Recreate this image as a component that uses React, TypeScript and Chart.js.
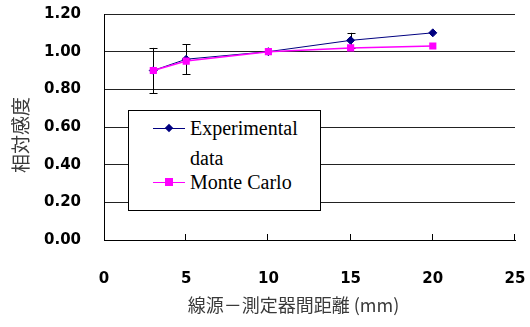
import React, { useEffect, useRef } from "react";
import { Chart, registerables } from "chart.js";

Chart.register(...registerables);

const distances = [3, 5, 10, 15, 20];
const experimental = [0.9, 0.96, 1.0, 1.06, 1.1];
const experimentalErr = [0.12, 0.08, 0, 0.04, 0];
const monteCarlo = [0.9, 0.95, 1.0, 1.02, 1.03];
const xTicks = [0, 5, 10, 15, 20, 25];
const yTitle = "相対感度";
const xTitle = "線源－測定器間距離 (mm)";
const seriesNames = ["Experimental data", "Monte Carlo"];

const errorBarPlugin = {
  id: "errorBars",
  beforeDatasetsDraw(chart: any) {
    const { ctx, scales } = chart;
    const xs = scales.x;
    const ys = scales.y;
    ctx.save();
    ctx.strokeStyle = "#000";
    ctx.lineWidth = 1;
    distances.forEach((d, i) => {
      const e = experimentalErr[i];
      if (!e) return;
      const x = Math.round(xs.getPixelForValue(d)) + 0.5;
      const y1 = ys.getPixelForValue(experimental[i] + e);
      const y2 = ys.getPixelForValue(experimental[i] - e);
      ctx.beginPath();
      ctx.moveTo(x, y1);
      ctx.lineTo(x, y2);
      ctx.moveTo(x - 4, Math.round(y1) + 0.5);
      ctx.lineTo(x + 4, Math.round(y1) + 0.5);
      ctx.moveTo(x - 4, Math.round(y2) + 0.5);
      ctx.lineTo(x + 4, Math.round(y2) + 0.5);
      ctx.stroke();
    });
    const bottom = chart.chartArea.bottom;
    ctx.beginPath();
    xTicks.forEach((t) => {
      if (t === 0) return;
      const x = Math.round(xs.getPixelForValue(t)) - 0.5;
      ctx.moveTo(x, bottom);
      ctx.lineTo(x, bottom - 6);
    });
    ctx.stroke();
    ctx.restore();
  },
};

const titlePlugin = {
  id: "axisTitleText",
  afterDraw(chart: any) {
    const { ctx, chartArea } = chart;
    ctx.save();
    ctx.fillStyle = "#3a3a3a";
    ctx.textAlign = "center";
    ctx.textBaseline = "middle";
    ctx.font = "18px 'Noto Sans CJK JP', 'DejaVu Sans', sans-serif";
    ctx.fillText(xTitle, (chartArea.left + chartArea.right) / 2 - 16, 305);
    ctx.translate(21, (chartArea.top + chartArea.bottom) / 2 + 8);
    ctx.rotate(-Math.PI / 2);
    ctx.font = "19px 'Noto Sans CJK JP', 'DejaVu Sans', sans-serif";
    ctx.fillText(yTitle, 0, 0);
    ctx.restore();
  },
};

export default function App() {
  const ref = useRef<HTMLCanvasElement>(null);
  useEffect(() => {
    const chart = new Chart(ref.current as HTMLCanvasElement, {
      type: "line",
      data: {
        datasets: [
          {
            label: seriesNames[0],
            data: distances.map((d, i) => ({ x: d, y: experimental[i] })),
            borderColor: "#000080",
            backgroundColor: "#000080",
            borderWidth: 1,
            pointStyle: "rectRot",
            pointRadius: 4,
            order: 2,
          },
          {
            label: seriesNames[1],
            data: distances.map((d, i) => ({ x: d, y: monteCarlo[i] })),
            borderColor: "#FF00FF",
            backgroundColor: "#FF00FF",
            borderWidth: 1.5,
            pointStyle: "rect",
            pointRadius: 4,
            order: 1,
          },
        ],
      },
      options: {
        responsive: false,
        animation: false,
        layout: { padding: { top: 14, right: 15, left: 0, bottom: 0 } },
        plugins: { legend: { display: false }, tooltip: { enabled: false } },
        scales: {
          x: {
            type: "linear",
            min: 0,
            max: 25,
            afterBuildTicks: (s: any) => {
              s.ticks = xTicks.map((v) => ({ value: v }));
            },
            grid: { display: false, drawTicks: false },
            border: { display: true, color: "#000", width: 1 },
            ticks: {
              color: "#000",
              padding: 30,
              font: { family: "'DejaVu Sans'", weight: "bold", size: 15 },
            },
            afterFit: (s: any) => {
              s.height = 87;
              s.paddingLeft = 0;
              s.paddingRight = 0;
            },
          },
          y: {
            min: 0,
            max: 1.2,
            ticks: {
              stepSize: 0.2,
              color: "#000",
              padding: 23,
              font: { family: "'DejaVu Sans'", weight: "bold", size: 15 },
              callback: (v: any) => Number(v).toFixed(2),
            },
            grid: { color: "#222", lineWidth: 1, drawTicks: false },
            border: { display: true, color: "#000", width: 1 },
            afterFit: (s: any) => {
              s.width = 104;
              s.paddingTop = 0;
              s.paddingBottom = 0;
            },
          },
        },
      },
      plugins: [errorBarPlugin, titlePlugin],
    } as any);
    return () => chart.destroy();
  }, []);

  const marker = (color: string, diamond: boolean) => (
    <div style={{ position: "relative", width: 32, height: 10 }}>
      <div style={{ position: "absolute", left: 0, top: 4.5, width: 32, height: diamond ? 1 : 1.5, background: color }} />
      <div
        style={{
          position: "absolute",
          left: diamond ? 13 : 12,
          top: diamond ? 2 : 1,
          width: diamond ? 6 : 8,
          height: diamond ? 6 : 8,
          background: color,
          transform: diamond ? "rotate(45deg)" : "none",
        }}
      />
    </div>
  );

  return (
    <div style={{ position: "fixed", left: 0, top: 0, width: 530, height: 327, background: "#fff" }}>
      <canvas ref={ref} width={530} height={327} style={{ display: "block" }} />
      <div
        style={{
          position: "absolute",
          left: 128,
          top: 110,
          width: 191,
          height: 99,
          border: "1px solid #000",
          background: "#fff",
          fontFamily: "'Liberation Serif', 'DejaVu Serif', 'Times New Roman', serif",
          fontSize: 20,
          color: "#000",
        }}
      >
        <div style={{ position: "absolute", left: 24, top: 12 }}>{marker("#000080", true)}</div>
        <div style={{ position: "absolute", left: 61, top: 2, width: 115, lineHeight: "30px" }}>{seriesNames[0]}</div>
        <div style={{ position: "absolute", left: 24, top: 66 }}>{marker("#FF00FF", false)}</div>
        <div style={{ position: "absolute", left: 61, top: 56, lineHeight: "30px", whiteSpace: "nowrap" }}>{seriesNames[1]}</div>
      </div>
    </div>
  );
}
